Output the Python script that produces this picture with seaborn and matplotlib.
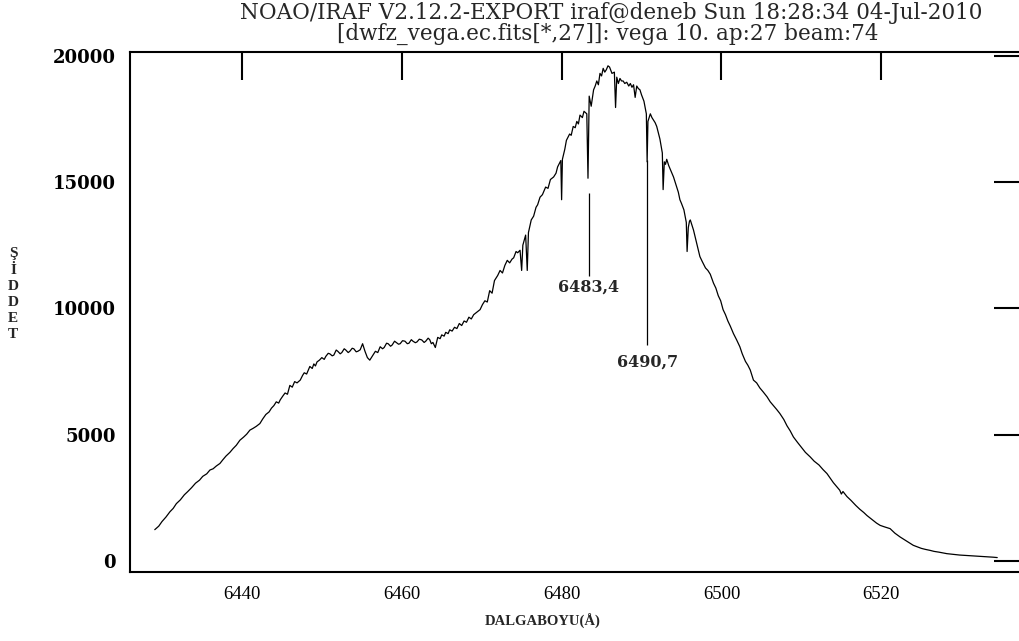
import matplotlib
matplotlib.use("Agg")
import matplotlib.pyplot as plt
import seaborn as sns
import pandas as pd

# ---- data (wavelength in Å, intensity) ----
wavelength = [
    6429.1, 6429.6, 6430.0, 6430.5, 6431.0, 6431.4, 6431.8, 6432.3, 6432.8, 6433.2,
    6433.7, 6434.2, 6434.7, 6435.1, 6435.6, 6436.0, 6436.4, 6436.8, 6437.25, 6437.6,
    6438.0, 6438.5, 6438.9, 6439.3, 6439.75, 6440.2, 6440.6, 6441.0, 6441.4, 6441.8,
    6442.25, 6442.6, 6443.0, 6443.4, 6443.7, 6444.0, 6444.3, 6444.6, 6444.8, 6445.1,
    6445.4, 6445.7, 6446.0, 6446.3, 6446.6, 6446.9, 6447.3, 6447.6, 6447.8, 6448.1,
    6448.5, 6448.8, 6449.0, 6449.2, 6449.4, 6449.7, 6450.0, 6450.3, 6450.5, 6450.8,
    6451.0, 6451.3, 6451.5, 6451.8, 6452.0, 6452.3, 6452.5, 6452.8, 6453.0, 6453.3,
    6453.5, 6453.8, 6454.0, 6454.3, 6454.5, 6454.8, 6455.1, 6455.4, 6455.7, 6456.0,
    6456.3, 6456.7, 6457.0, 6457.3, 6457.6, 6457.8, 6458.1, 6458.3, 6458.6, 6458.8,
    6459.1, 6459.3, 6459.6, 6459.8, 6460.1, 6460.4, 6460.7, 6460.9, 6461.2, 6461.4,
    6461.7, 6461.9, 6462.2, 6462.5, 6462.8, 6463.0, 6463.3, 6463.5, 6463.7, 6463.9,
    6464.2, 6464.5, 6464.8, 6465.0, 6465.3, 6465.5, 6465.8, 6466.0, 6466.3, 6466.6,
    6466.9, 6467.2, 6467.5, 6467.8, 6468.1, 6468.4, 6468.7, 6469.0, 6469.4, 6469.8,
    6470.1, 6470.4, 6470.7, 6471.0, 6471.3, 6471.6, 6472.0, 6472.3, 6472.6, 6472.9,
    6473.2, 6473.5, 6473.8, 6474.0, 6474.3, 6474.5, 6474.8, 6475.0, 6475.15, 6475.5,
    6475.7, 6475.85, 6476.2, 6476.5, 6476.8, 6477.0, 6477.3, 6477.6, 6478.0, 6478.3,
    6478.6, 6479.0, 6479.3, 6479.5, 6479.9, 6480.0, 6480.1, 6480.4, 6480.6, 6481.0,
    6481.2, 6481.45, 6481.7, 6481.9, 6482.1, 6482.3, 6482.6, 6482.8, 6483.15, 6483.3,
    6483.45, 6483.7, 6484.0, 6484.2, 6484.4, 6484.6, 6484.8, 6485.0, 6485.2, 6485.4,
    6485.6, 6485.8, 6486.0, 6486.3, 6486.6, 6486.75, 6486.9, 6487.1, 6487.3, 6487.5,
    6487.7, 6487.9, 6488.15, 6488.4, 6488.6, 6488.8, 6489.0, 6489.2, 6489.4, 6489.6,
    6489.8, 6490.0, 6490.3, 6490.6, 6490.7, 6490.8, 6491.1, 6491.3, 6491.5, 6491.7,
    6491.9, 6492.1, 6492.3, 6492.6, 6492.7, 6492.85, 6493.0, 6493.15, 6493.4, 6493.6,
    6493.8, 6494.0, 6494.2, 6494.4, 6494.6, 6494.8, 6495.0, 6495.3, 6495.6, 6495.7,
    6495.85, 6496.0, 6496.1, 6496.3, 6496.5, 6496.8, 6497.0, 6497.3, 6497.6, 6498.0,
    6498.3, 6498.6, 6499.0, 6499.3, 6499.6, 6499.9, 6500.2, 6500.5, 6500.8, 6501.1,
    6501.5, 6501.9, 6502.3, 6502.6, 6503.0, 6503.3, 6503.6, 6504.0, 6504.4, 6504.8,
    6505.2, 6505.7, 6506.1, 6506.5, 6506.9, 6507.3, 6507.8, 6508.2, 6508.6, 6509.0,
    6509.5, 6510.0, 6510.5, 6511.1, 6511.6, 6512.2, 6512.7, 6513.2, 6513.6, 6514.0,
    6514.4, 6514.8, 6515.0, 6515.2, 6515.7, 6516.2, 6516.8, 6517.3, 6517.8, 6518.2,
    6518.6, 6519.0, 6519.4, 6519.85, 6520.4, 6521.1, 6521.7, 6522.35, 6522.8, 6523.2,
    6523.6, 6524.0, 6524.5, 6525.0, 6525.5, 6526.1, 6526.6, 6527.2, 6527.7, 6528.2,
    6528.8, 6529.3, 6529.8, 6530.3, 6530.9, 6531.4, 6531.9, 6532.4, 6533.0, 6533.5,
    6534.0, 6534.5,
]
intensity = [
    1240, 1380, 1560, 1740, 1950, 2080, 2270, 2420, 2620, 2740,
    2900, 3080, 3200, 3350, 3450, 3600, 3650, 3760, 3860, 4000,
    4150, 4300, 4450, 4580, 4780, 4900, 5020, 5180, 5250, 5330,
    5440, 5620, 5800, 5900, 6050, 6150, 6300, 6250, 6380, 6520,
    6650, 6600, 6950, 6880, 7100, 7050, 7160, 7350, 7450, 7400,
    7700, 7620, 7800, 7720, 7880, 7950, 8050, 7980, 8100, 8220,
    8200, 8120, 8150, 8350, 8300, 8200, 8250, 8400, 8350, 8250,
    8300, 8420, 8400, 8280, 8300, 8360, 8600, 8300, 8050, 7950,
    8100, 8300, 8250, 8480, 8400, 8450, 8620, 8600, 8500, 8550,
    8700, 8650, 8580, 8600, 8720, 8700, 8600, 8620, 8760, 8700,
    8640, 8670, 8780, 8750, 8650, 8700, 8820, 8760, 8600, 8650,
    8450, 8850, 8800, 8950, 8900, 9050, 9000, 9150, 9100, 9250,
    9200, 9400, 9320, 9500, 9450, 9650, 9580, 9750, 9850, 9950,
    10150, 10300, 10250, 10700, 10600, 11100, 11300, 11500, 11400, 11700,
    11900, 11800, 11950, 12000, 12250, 12200, 12300, 11500, 12500, 12900,
    11500, 13000, 13500, 13650, 14000, 14100, 14400, 14500, 14800, 14750,
    15100, 15200, 15350, 15600, 15850, 14300, 15900, 16300, 16650, 16900,
    16850, 17200, 17150, 17400, 17300, 17650, 17550, 17800, 17700, 15150,
    18400, 18000, 18650, 18800, 19000, 18850, 19300, 19200, 19500, 19350,
    19450, 19600, 19550, 19300, 19350, 17950, 19150, 18900, 19100, 19000,
    19000, 18900, 18950, 18800, 18900, 18750, 18850, 18350, 18800, 18700,
    18650, 18450, 18200, 17700, 15800, 17400, 17700, 17550, 17450, 17350,
    17200, 16950, 16700, 16150, 14700, 15800, 15700, 15900, 15650, 15500,
    15350, 15200, 15000, 14800, 14600, 14300, 14150, 13900, 13400, 12250,
    13200, 13450, 13500, 13300, 13100, 12700, 12450, 12050, 11850, 11600,
    11500, 11350, 11000, 10800, 10500, 10300, 9950, 9750, 9500, 9300,
    9000, 8750, 8480, 8200, 7900, 7750, 7560, 7160, 7050, 6850,
    6700, 6500, 6300, 6150, 6000, 5840, 5600, 5350, 5150, 4910,
    4700, 4500, 4300, 4120, 3950, 3800, 3620, 3460, 3280, 3100,
    2950, 2800, 2650, 2750, 2550, 2400, 2200, 2050, 1920, 1800,
    1700, 1600, 1500, 1410, 1350, 1280, 1100, 950, 860, 780,
    700, 620, 560, 500, 460, 420, 380, 350, 320, 290,
    270, 250, 235, 225, 210, 200, 190, 185, 170, 160,
    150, 135,
]

x_ticks = [6440, 6460, 6480, 6500, 6520]
y_ticks = [0, 5000, 10000, 15000, 20000]

line_labels = ["6483,4", "6490,7"]
line_pos = [6483.4, 6490.7]
line_top = [14570, 15880]
line_bottom = [11280, 8550]
label_y = [10840, 7880]

title1 = "NOAO/IRAF V2.12.2-EXPORT iraf@deneb Sun 18:28:34 04-Jul-2010"
title2 = "[dwfz_vega.ec.fits[*,27]]: vega 10. ap:27 beam:74"

df = pd.DataFrame({"wavelength": wavelength, "intensity": intensity})

sns.set_style("white")
W, H = 1019, 641
fig = plt.figure(figsize=(W / 100, H / 100), dpi=100)
ax = fig.add_axes([130 / W, (H - 572) / H, (1022 - 130) / W, (572 - 52) / H])

sns.lineplot(data=df, x="wavelength", y="intensity", ax=ax, color="black",
             linewidth=0.9, estimator=None, sort=False)

ax.set_xlim(6426.0, 6537.6)
ax.set_ylim(-436, 20147)
ax.set_xticks(x_ticks)
ax.set_yticks(y_ticks)
ax.set_xticklabels([str(v) for v in x_ticks], family="Liberation Serif", fontsize=13.5)
ax.set_yticklabels([str(v) for v in y_ticks], family="DejaVu Serif", fontweight="bold",
                   fontsize=13)
ax.tick_params(direction="in", length=20, width=1.5, top=True, right=True,
               colors="black")
ax.tick_params(axis="x", pad=10)
ax.tick_params(axis="y", pad=10)
for s in ax.spines.values():
    s.set_visible(True)
    s.set_linewidth(1.5)
    s.set_color("black")

ax.set_xlabel("")
ax.set_ylabel("")

for lp, lt, lb, lab, ly in zip(line_pos, line_top, line_bottom, line_labels, label_y):
    ax.vlines(lp, lb, lt, color="black", linewidth=0.9)
    ax.text(lp, ly, lab, ha="center", va="center", family="DejaVu Serif",
            fontweight="bold", fontsize=11.5)

fig.text(543 / W, 1 - 621 / H, "DALGABOYU(Å)", ha="center", va="center",
         family="Liberation Serif", fontweight="bold", fontsize=10.5)
fig.text(13 / W, 1 - 294 / H, "Ş\nİ\nD\nD\nE\nT", ha="center", va="center",
         family="Liberation Serif", fontweight="bold", fontsize=11, linespacing=1.3)
fig.text(611 / W, 1 - 13 / H, title1, ha="center", va="center",
         family="DejaVu Serif", fontsize=15.5)
fig.text(608 / W, 1 - 34 / H, title2, ha="center", va="center",
         family="DejaVu Serif", fontsize=15.5)

fig.savefig("out.png", dpi=100, facecolor="white")
